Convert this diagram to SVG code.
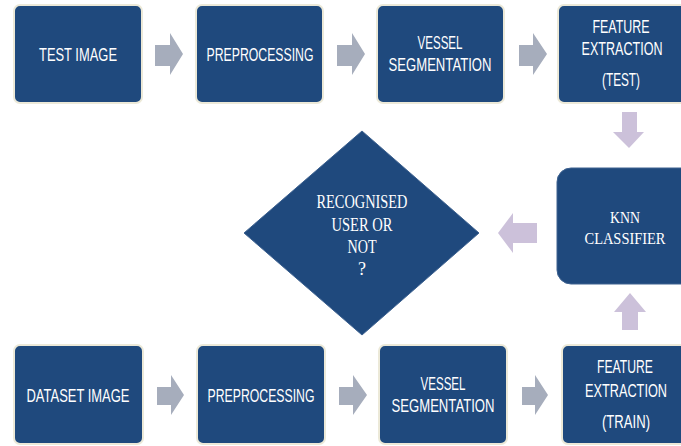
<svg xmlns="http://www.w3.org/2000/svg" width="681" height="446" viewBox="0 0 681 446">
<defs>
<style>
.box{fill:#1f497d;stroke:#ece9d8;stroke-width:2}
.knn{fill:#1f497d;stroke:#3e6290;stroke-width:1}
.dia{fill:#1f497d;stroke:#3e6290;stroke-width:1}
.t{font-family:"Liberation Sans","Open Sans",sans-serif;font-size:19px;fill:#ffffff;text-anchor:middle}
.s{font-family:"Liberation Serif","Times New Roman",serif;font-size:18px;fill:#ffffff;text-anchor:middle}
.s16{font-size:16px}
.ga{fill:#a6adbc}
.la{fill:#ccc1da}
</style>
</defs>
<rect width="681" height="446" fill="#ffffff"/>
<g id="connectors">
<polygon class="ga" points="155,45 170,45 170,33 183,54 170,75 170,66 155,66"/>
<polygon class="ga" points="337,45 352,45 352,33 365,54 352,75 352,66 337,66"/>
<polygon class="ga" points="519,45 533,45 533,33 547,54 533,75 533,66 519,66"/>
<polygon class="la" points="622,112 637,112 637,132 644,132 629,148 613,132 622,132"/>
<polygon class="la" points="537,223 513,223 513,213 498,233 513,253 513,243 537,243"/>
<polygon class="la" points="622,330 638,330 638,312 646,312 630,293 614,312 622,312"/>
<polygon class="ga" points="157,387 171,387 171,375 184,395 171,415 171,405 157,405"/>
<polygon class="ga" points="339,387 353,387 353,375 367,395 353,415 353,405 339,405"/>
<polygon class="ga" points="522,387 535,387 535,375 548,395 535,415 535,405 522,405"/>
</g>
<g id="test-image">
<rect class="box" x="14" y="5" width="128" height="98" rx="6"/>
<text class="t" x="78" y="61" textLength="78" lengthAdjust="spacingAndGlyphs">TEST IMAGE</text>
</g>
<g id="preprocessing-test">
<rect class="box" x="196" y="5" width="127" height="98" rx="6"/>
<text class="t" x="260" y="61" textLength="107" lengthAdjust="spacingAndGlyphs">PREPROCESSING</text>
</g>
<g id="vessel-test">
<rect class="box" x="377" y="5" width="127" height="98" rx="6"/>
<text class="t" x="440" y="49" textLength="45" lengthAdjust="spacingAndGlyphs">VESSEL</text>
<text class="t" x="440" y="71" textLength="103" lengthAdjust="spacingAndGlyphs">SEGMENTATION</text>
</g>
<g id="feature-test">
<path class="box" d="M681,5 H564 A6,6 0 0 0 558,11 V97 A6,6 0 0 0 564,103 H681"/>
<text class="t" x="621" y="33" textLength="57" lengthAdjust="spacingAndGlyphs">FEATURE</text>
<text class="t" x="622" y="55" textLength="81" lengthAdjust="spacingAndGlyphs">EXTRACTION</text>
<text class="t" x="621" y="86" textLength="38" lengthAdjust="spacingAndGlyphs">(TEST)</text>
</g>
<g id="knn">
<path class="knn" d="M681,168 H571 A14,14 0 0 0 557,182 V270 A14,14 0 0 0 571,284 H681"/>
<text class="s s16" x="625" y="223" textLength="30" lengthAdjust="spacingAndGlyphs">KNN</text>
<text class="s s16" x="625" y="244" textLength="81" lengthAdjust="spacingAndGlyphs">CLASSIFIER</text>
</g>
<g id="decision">
<polygon class="dia" points="362,131 479,233 362,335 244,233"/>
<text class="s" x="362" y="208" textLength="91" lengthAdjust="spacingAndGlyphs">RECOGNISED</text>
<text class="s" x="362" y="231" textLength="61" lengthAdjust="spacingAndGlyphs">USER OR</text>
<text class="s" x="362" y="253" textLength="29" lengthAdjust="spacingAndGlyphs">NOT</text>
<text class="s" x="362" y="275">?</text>
</g>
<g id="dataset-image">
<rect class="box" x="14" y="345" width="129" height="99" rx="6"/>
<text class="t" x="78" y="402" textLength="103" lengthAdjust="spacingAndGlyphs">DATASET IMAGE</text>
</g>
<g id="preprocessing-train">
<rect class="box" x="197" y="345" width="128" height="99" rx="6"/>
<text class="t" x="261" y="402" textLength="107" lengthAdjust="spacingAndGlyphs">PREPROCESSING</text>
</g>
<g id="vessel-train">
<rect class="box" x="379" y="345" width="128" height="99" rx="6"/>
<text class="t" x="443" y="390" textLength="45" lengthAdjust="spacingAndGlyphs">VESSEL</text>
<text class="t" x="443" y="412" textLength="103" lengthAdjust="spacingAndGlyphs">SEGMENTATION</text>
</g>
<g id="feature-train">
<path class="box" d="M681,345 H568 A6,6 0 0 0 562,351 V438 A6,6 0 0 0 568,444 H681"/>
<text class="t" x="625" y="373" textLength="56" lengthAdjust="spacingAndGlyphs">FEATURE</text>
<text class="t" x="626" y="397" textLength="82" lengthAdjust="spacingAndGlyphs">EXTRACTION</text>
<text class="t" x="626" y="428" textLength="48" lengthAdjust="spacingAndGlyphs">(TRAIN)</text>
</g>
</svg>
